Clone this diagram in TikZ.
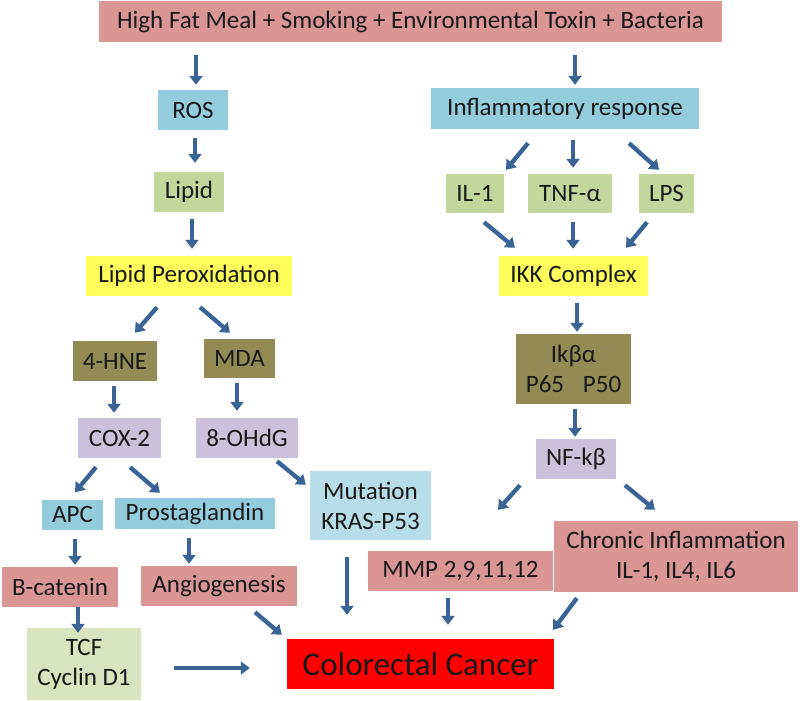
\documentclass[tikz,border=0pt]{standalone}
\usepackage{fontspec}
\setmainfont{Carlito}
\usetikzlibrary{arrows.meta,calc}
\definecolor{rose}{HTML}{DA9694}
\definecolor{aqua}{HTML}{93CDDD}
\definecolor{paleaqua}{HTML}{B7DDE8}
\definecolor{olivegreen}{HTML}{C3D69B}
\definecolor{palegreen}{HTML}{D7E4BD}
\definecolor{lemon}{HTML}{FFFF5C}
\definecolor{khaki}{HTML}{948A54}
\definecolor{lilac}{HTML}{CCC1DA}
\definecolor{alarm}{HTML}{FF0000}
\definecolor{steel}{HTML}{3B6496}
\newcommand{\ccsize}{\fontsize{33pt}{38pt}\selectfont}
\tikzset{
  box/.style={inner sep=0pt, align=center, text=black!90,
    font=\fontsize{25pt}{30pt}\selectfont},
  rosebox/.style={box, fill=rose},
  aquabox/.style={box, fill=aqua},
  paleaquabox/.style={box, fill=paleaqua},
  greenbox/.style={box, fill=olivegreen},
  palegreenbox/.style={box, fill=palegreen},
  lemonbox/.style={box, fill=lemon},
  khakibox/.style={box, fill=khaki},
  lilacbox/.style={box, fill=lilac},
  alarmbox/.style={box, fill=alarm, font=\ccsize},
  arr/.style={-{Triangle[length=9pt,width=13pt]}, line width=4.3pt, color=steel},
}

\begin{document}
\begin{tikzpicture}[x=1pt, y=-1pt]
    \useasboundingbox (0,0) rectangle (800,701);
    % sources
    \node[rosebox, minimum width=623pt, minimum height=41pt] (top) at (410.5,21.5)
      {High Fat Meal + Smoking + Environmental Toxin + Bacteria};
    % left branch
    \node[aquabox, minimum width=70pt, minimum height=40pt] (ros) at (193,110) {ROS};
    \node[greenbox, minimum width=70pt, minimum height=40pt] (lipid) at (189,192) {Lipid};
    \node[lemonbox, minimum width=206pt, minimum height=40pt] (lp) at (189,276) {Lipid Peroxidation};
    \node[khakibox, minimum width=84pt, minimum height=40pt] (hne) at (115,361) {4-HNE};
    \node[khakibox, minimum width=71pt, minimum height=39pt] (mda) at (239.5,358.5) {MDA};
    \node[lilacbox, minimum width=83pt, minimum height=40pt] (cox) at (119.5,438) {COX-2};
    \node[lilacbox, minimum width=102pt, minimum height=40pt] (ohdg) at (247,438) {8-OHdG};
    \node[aquabox, minimum width=61pt, minimum height=30pt] (apc) at (72.5,514.5) {APC};
    \node[aquabox, minimum width=160pt, minimum height=31pt] (prost) at (195,513.5) {Prostaglandin};
    \node[paleaquabox, minimum width=121pt, minimum height=69pt] (mut) at (370.5,505.5)
      {Mutation\\KRAS-P53};
    \node[rosebox, minimum width=116pt, minimum height=40pt] (bcat) at (60,587) {B-catenin};
    \node[rosebox, minimum width=156pt, minimum height=40pt] (angio) at (219,586) {Angiogenesis};
    \node[palegreenbox, minimum width=114pt, minimum height=72pt] (tcf) at (84,664)
      {TCF\\Cyclin D1};
    % right branch
    \node[aquabox, minimum width=268pt, minimum height=41pt] (infl) at (565,108.5)
      {Inflammatory response};
    \node[greenbox, minimum width=58pt, minimum height=39pt] (il1) at (475,193.5) {IL-1};
    \node[greenbox, minimum width=84pt, minimum height=39pt] (tnf) at (570,193.5) {TNF-α};
    \node[greenbox, minimum width=55pt, minimum height=39pt] (lps) at (666.5,193.5) {LPS};
    \node[lemonbox, minimum width=149pt, minimum height=40pt] (ikk) at (573.5,276) {IKK Complex};
    \node[khakibox, minimum width=115pt, minimum height=70pt] (ikb) at (573.5,369)
      {Ikβα\\P65\hspace{0.75em}P50};
    \node[lilacbox, minimum width=80pt, minimum height=40pt] (nfk) at (576,459) {NF-kβ};
    \node[rosebox, minimum width=185pt, minimum height=40pt] (mmp) at (460.5,571) {MMP 2,9,11,12};
    \node[rosebox, minimum width=244pt, minimum height=71pt] (chron) at (676,556.5)
      {Chronic Inflammation\\IL-1, IL4, IL6};
    % outcome
    \node[alarmbox, minimum width=267pt, minimum height=50pt] (cc) at (420.5,664) {Colorectal Cancer};

    % left arrows
    \draw[arr] ([shift={(3,13)}]top.south -| ros.north) -- ([shift={(3,-5)}]ros.north);
    \draw[arr] ([shift={(2,8)}]ros.south) -- ([shift={(6,-9)}]lipid.north);
    \draw[arr] ([shift={(3,7)}]lipid.south) -- ([shift={(3,-7)}]lp.north);
    \draw[arr] ([shift={(-32,11)}]lp.south) -- ([shift={(20,-8)}]hne.north);
    \draw[arr] ([shift={(11,11)}]lp.south) -- ([shift={(-9.5,-6)}]mda.north);
    \draw[arr] ([shift={(-1,5)}]hne.south) -- ([shift={(-5.5,-5)}]cox.north);
    \draw[arr] ([shift={(-2.5,5)}]mda.south) -- ([shift={(-10,-7)}]ohdg.north);
    \draw[arr] ([shift={(-23.5,9)}]cox.south) -- ([shift={(2.5,-7)}]apc.north);
    \draw[arr] ([shift={(10.5,9)}]cox.south) -- ([shift={(-35,-5)}]prost.north);
    \draw[arr] ([shift={(30,3)}]ohdg.south) -- ([shift={(-4,14)}]mut.north west);
    \draw[arr] ([shift={(2.5,9)}]apc.south) -- ([shift={(15,-2)}]bcat.north);
    \draw[arr] ([shift={(-6,9)}]prost.south) -- ([shift={(-30,-2)}]angio.north);
    \draw[arr] ([shift={(18,0)}]bcat.south) -- ([shift={(-6,5)}]tcf.north);
    \draw[arr] ([shift={(36,6)}]angio.south) -- ([shift={(-5,-4)}]cc.north west);
    \draw[arr] ([shift={(-23.5,17)}]mut.south) -- ([shift={(-73.5,-24)}]cc.north);
    \draw[arr] ([shift={(33,4)}]tcf.east) -- ([shift={(-37,4)}]cc.west);
    % right arrows
    \draw[arr] ([shift={(10,13)}]top.south -| infl.north) -- ([shift={(10,-3)}]infl.north);
    \draw[arr] ([shift={(-37,14)}]infl.south) -- ([shift={(31,-4)}]il1.north);
    \draw[arr] ([shift={(8,11)}]infl.south) -- ([shift={(3,-6)}]tnf.north);
    \draw[arr] ([shift={(64,14)}]infl.south) -- ([shift={(-7.5,-4)}]lps.north);
    \draw[arr] ([shift={(9,9)}]il1.south) -- ([shift={(-58.5,-8)}]ikk.north);
    \draw[arr] ([shift={(3,9)}]tnf.south) -- ([shift={(-0.5,-7)}]ikk.north);
    \draw[arr] ([shift={(-19.5,9)}]lps.south) -- ([shift={(52.5,-8)}]ikk.north);
    \draw[arr] ([shift={(3.5,7)}]ikk.south) -- ([shift={(3.5,-2)}]ikb.north);
    \draw[arr] ([shift={(1.5,5)}]ikb.south) -- ([shift={(-1,-2)}]nfk.north);
    \draw[arr] ([shift={(-56,6)}]nfk.south) -- ([shift={(37.5,-41)}]mmp.north);
    \draw[arr] ([shift={(49,6)}]nfk.south) -- ([shift={(-21,-11)}]chron.north);
    \draw[arr] ([shift={(-12.5,7)}]mmp.south) -- ([shift={(27.5,-14)}]cc.north);
    \draw[arr] ([shift={(23,6)}]chron.south west) -- ([shift={(-1,-9)}]cc.north east);
\end{tikzpicture}
\end{document}
